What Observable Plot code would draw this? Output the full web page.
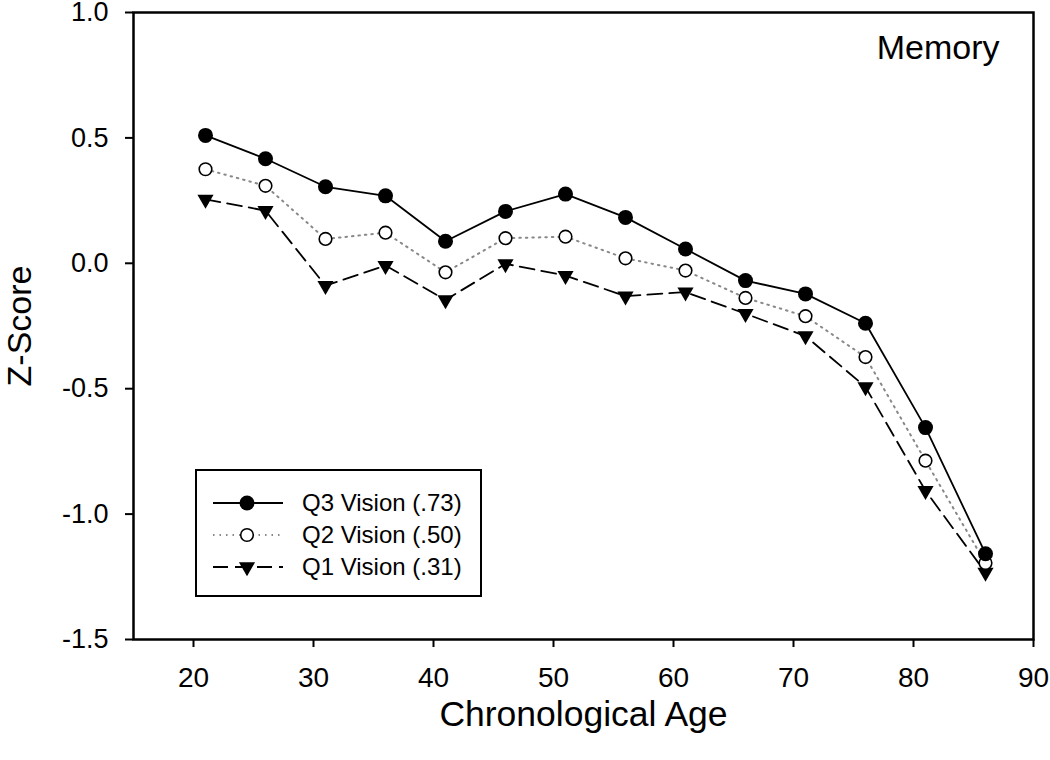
<!DOCTYPE html>
<html>
<head>
<meta charset="utf-8">
<script src="https://cdn.jsdelivr.net/npm/d3@7"></script>
<script src="https://cdn.jsdelivr.net/npm/@observablehq/plot@0.6"></script>
<style>
  html, body { margin: 0; padding: 0; background: #fff; }
  #wrap { position: relative; width: 1050px; height: 760px; font-family: "Liberation Sans", Arial, sans-serif; }
  #legend { position: absolute; left: 195px; top: 469px; }
</style>
</head>
<body>
<div id="wrap"></div>
<script>
const ages = [21, 26, 31, 36, 41, 46, 51, 56, 61, 66, 71, 76, 81, 86];
const q3 = [0.510, 0.417, 0.305, 0.269, 0.088, 0.207, 0.276, 0.183, 0.057, -0.069, -0.122, -0.239, -0.655, -1.158];
const q2 = [0.375, 0.309, 0.097, 0.122, -0.036, 0.100, 0.106, 0.020, -0.029, -0.138, -0.211, -0.374, -0.787, -1.195];
const q1 = [0.255, 0.210, -0.089, -0.009, -0.146, -0.002, -0.049, -0.131, -0.115, -0.201, -0.290, -0.493, -0.907, -1.233];
const seriesNames = ["Q3 Vision (.73)", "Q2 Vision (.50)", "Q1 Vision (.31)"];
const xTicks = [20, 30, 40, 50, 60, 70, 80, 90];
const yTicks = [-1.5, -1.0, -0.5, 0.0, 0.5, 1.0];
const panelTitle = "Memory";
const xTitle = "Chronological Age";
const yTitle = "Z-Score";

const rows = ages.map((a, i) => ({age: a, q3: q3[i], q2: q2[i], q1: q1[i]}));
const font = "Liberation Sans, Arial, sans-serif";

const chart = Plot.plot({
  width: 1050,
  height: 760,
  marginLeft: 133,
  marginRight: 17,
  marginTop: 12,
  marginBottom: 121,
  style: {fontFamily: font, background: "#fff", color: "#000", overflow: "visible"},
  x: {domain: [15, 90]},
  y: {domain: [-1.5, 1.0]},
  marks: [
    Plot.axisX({ticks: xTicks, tickSize: 8, tickPadding: 20, fontSize: 28, strokeWidth: 2, label: null, tickFormat: d => String(d)}),
    Plot.axisY({ticks: yTicks, tickSize: 8, tickPadding: 17, fontSize: 27, strokeWidth: 2, label: null, tickFormat: d => d.toFixed(1)}),
    Plot.frame({stroke: "#000", strokeWidth: 2.5}),
    Plot.line(rows, {x: "age", y: "q2", stroke: "#888", strokeWidth: 2, strokeDasharray: "1.5,5", strokeLinecap: "round"}),
    Plot.line(rows, {x: "age", y: "q1", stroke: "#000", strokeWidth: 1.8, strokeDasharray: "15,7"}),
    Plot.line(rows, {x: "age", y: "q3", stroke: "#000", strokeWidth: 1.8}),
    Plot.dot(rows, {x: "age", y: "q1", symbol: "triangle", rotate: 180, r: 6, fill: "#000", stroke: "none"}),
    Plot.dot(rows, {x: "age", y: "q2", r: 6.3, fill: "#fff", stroke: "#000", strokeWidth: 1.6}),
    Plot.dot(rows, {x: "age", y: "q3", r: 7.5, fill: "#000", stroke: "none"}),
    Plot.text([panelTitle], {frameAnchor: "top-right", dx: -34, dy: 22, fontSize: 34, textAnchor: "end", lineAnchor: "top", fill: "#000"}),
    Plot.text([xTitle], {frameAnchor: "bottom", dy: 75, fontSize: 35.5, textAnchor: "middle", lineAnchor: "middle", fill: "#000"}),
    Plot.text([yTitle], {frameAnchor: "left", dx: -113, rotate: -90, fontSize: 34, textAnchor: "middle", lineAnchor: "middle", fill: "#000"})
  ]
});

const wrap = document.getElementById("wrap");
wrap.appendChild(chart);

// Legend
const lw = 287, lh = 128;
const leg = d3.select(wrap).append("svg").attr("id", "legend").attr("width", lw).attr("height", lh)
  .style("font-family", font);
leg.append("rect").attr("x", 1).attr("y", 1).attr("width", lw - 2).attr("height", lh - 2)
  .attr("fill", "#fff").attr("stroke", "#000").attr("stroke-width", 2);
const styles = [
  {stroke: "#000", dash: null, w: 1.8, kind: "fill"},
  {stroke: "#888", dash: "1.5,5", w: 2, kind: "open"},
  {stroke: "#000", dash: "15,7", w: 1.8, kind: "tri"}
];
seriesNames.forEach((name, i) => {
  const cy = 34 + i * 32;
  const s = styles[i];
  const ln = leg.append("line").attr("x1", 18).attr("x2", 88).attr("y1", cy).attr("y2", cy)
    .attr("stroke", s.stroke).attr("stroke-width", s.w);
  if (s.dash) ln.attr("stroke-dasharray", s.dash);
  if (s.kind === "fill") leg.append("circle").attr("cx", 52).attr("cy", cy).attr("r", 7.5).attr("fill", "#000");
  if (s.kind === "open") leg.append("circle").attr("cx", 52).attr("cy", cy).attr("r", 6.3).attr("fill", "#fff").attr("stroke", "#000").attr("stroke-width", 1.6);
  if (s.kind === "tri") leg.append("path").attr("d", d3.symbol(d3.symbolTriangle, Math.PI * 36)()).attr("transform", `translate(52,${cy}) rotate(180)`).attr("fill", "#000");
  leg.append("text").attr("x", 107).attr("y", cy).attr("dy", "0.35em").attr("font-size", 24).attr("fill", "#000").text(name);
});
</script>
</body>
</html>
